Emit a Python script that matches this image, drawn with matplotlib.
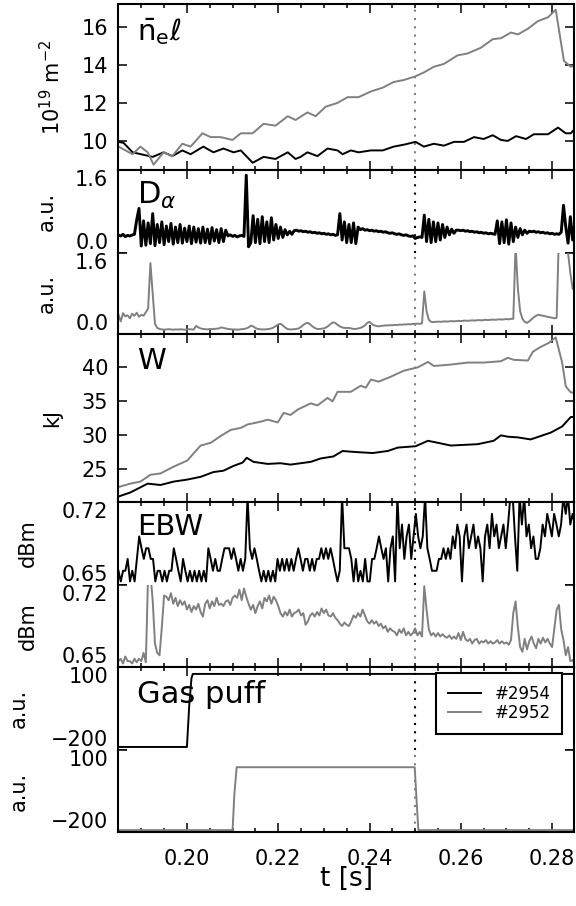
import numpy as np
import matplotlib
matplotlib.use('Agg')
import matplotlib.pyplot as plt
from matplotlib.ticker import MultipleLocator, FormatStrFormatter

BLACK = 'k'
GREY = '0.5'

t_range = (0.1849, 0.2848)
t_mark = 0.25

# line integrated density [1e19 m^-2]
ne_t_2954 = [0.1850, 0.1861, 0.1881, 0.1925, 0.1949, 0.1968, 0.1990, 0.2008, 0.2036, 0.2058,
             0.2080, 0.2102, 0.2118, 0.2144, 0.2168, 0.2194, 0.2221, 0.2238, 0.2249, 0.2264,
             0.2286, 0.2308, 0.2330, 0.2341, 0.2359, 0.2376, 0.2403, 0.2429, 0.2453, 0.2475,
             0.2501, 0.2519, 0.2541, 0.2563, 0.2585, 0.2607, 0.2629, 0.2650, 0.2670, 0.2688,
             0.2703, 0.2721, 0.2743, 0.2760, 0.2791, 0.2813, 0.2830, 0.2841, 0.2852]
ne_2954 = [9.95, 9.9, 9.4, 9.16, 9.4, 9.2, 9.5, 9.3, 9.7, 9.4,
           9.6, 9.4, 9.5, 8.85, 9.16, 9.05, 9.4, 9.05, 9.16, 9.4,
           9.2, 9.6, 9.5, 9.3, 9.5, 9.4, 9.5, 9.5, 9.7, 9.8,
           9.95, 9.7, 9.85, 9.75, 9.95, 9.95, 10.2, 10.1, 10.3, 10.05,
           10.0, 10.25, 10.1, 10.35, 10.35, 10.7, 10.4, 10.4, 10.7]
ne_t_2952 = [0.1850, 0.1881, 0.1898, 0.1914, 0.1927, 0.1949, 0.1968, 0.1990, 0.2008, 0.2034,
             0.2052, 0.2074, 0.2100, 0.2118, 0.2144, 0.2168, 0.2194, 0.2221, 0.2238, 0.2264,
             0.2282, 0.2304, 0.2330, 0.2352, 0.2376, 0.2403, 0.2429, 0.2453, 0.2475, 0.2501,
             0.2519, 0.2541, 0.2563, 0.2593, 0.2615, 0.2644, 0.2670, 0.2688, 0.2710, 0.2725,
             0.2747, 0.2769, 0.2791, 0.2808, 0.2826, 0.2841, 0.2852]
ne_2952 = [9.7, 9.3, 9.7, 9.4, 8.75, 9.4, 9.2, 9.85, 9.7, 10.4,
           10.2, 10.2, 10.05, 10.4, 10.4, 10.9, 10.8, 11.3, 11.1, 11.5,
           11.3, 11.8, 12.0, 12.3, 12.3, 12.6, 12.8, 13.1, 13.2, 13.4,
           13.6, 13.9, 14.05, 14.5, 14.6, 14.9, 15.35, 15.4, 15.7, 15.6,
           15.9, 16.3, 16.5, 16.9, 14.2, 13.9, 14.0]

# D-alpha [a.u.], one sample every 0.5 ms from 0.185 s to 0.285 s
da_2954 = [0.347, 0.328, 0.36, 0.315, 0.34, 0.328, 0.347, 0.36,
           0.64, 0.86, 0.135,
           0.62, 0.15, 0.58, 0.18, 0.76, 0.14, 0.55, 0.20, 0.60, 0.16, 0.52, 0.22, 0.57, 0.17,
           0.50, 0.20, 0.55, 0.19, 0.48, 0.22, 0.52, 0.18, 0.50, 0.21, 0.47, 0.19, 0.50, 0.20,
           0.46, 0.18, 0.49, 0.23, 0.45, 0.20, 0.47, 0.22, 0.44,
           0.33, 0.35, 0.32, 0.34, 0.31, 0.33, 0.34, 0.32,
           1.50, 0.12, 0.20,
           0.72, 0.20, 0.65, 0.18, 0.70, 0.22, 0.60, 0.20, 0.68, 0.25, 0.55, 0.28,
           0.50, 0.30, 0.45, 0.35, 0.42, 0.36,
           0.43, 0.44, 0.42, 0.43, 0.41, 0.42, 0.40, 0.41, 0.39, 0.40,
           0.38, 0.39, 0.37, 0.38, 0.36, 0.37, 0.35, 0.36, 0.34, 0.35,
           0.76, 0.25, 0.60, 0.20,
           0.55, 0.20, 0.58, 0.18, 0.50,
           0.45, 0.47, 0.44, 0.45, 0.43, 0.44, 0.42, 0.43, 0.41, 0.42, 0.40, 0.41,
           0.39, 0.38, 0.39, 0.37, 0.36, 0.37, 0.35, 0.34, 0.35, 0.33, 0.32, 0.33,
           0.28, 0.30, 0.31, 0.30,
           0.73, 0.22,
           0.65, 0.20, 0.60, 0.22, 0.58, 0.25, 0.55,
           0.30, 0.50, 0.35, 0.46, 0.38, 0.44,
           0.44, 0.43, 0.44, 0.42, 0.43, 0.41, 0.42, 0.40, 0.41, 0.39, 0.40, 0.38,
           0.39, 0.37, 0.38, 0.37, 0.36,
           0.62, 0.18, 0.60, 0.20, 0.64, 0.17, 0.58, 0.22,
           0.50, 0.30, 0.47, 0.35, 0.44, 0.38,
           0.42, 0.41, 0.42, 0.40, 0.41, 0.39, 0.40, 0.38, 0.39, 0.37, 0.38, 0.36, 0.37, 0.36,
           0.40, 0.92, 0.50, 0.19, 0.70, 0.25, 0.60]
da_2952 = [0.38, 0.25, 0.41, 0.35, 0.37, 0.31, 0.40, 0.36, 0.42, 0.34, 0.38, 0.36, 0.43,
           0.50, 1.40, 0.80, 0.20, 0.12,
           0.10, 0.09, 0.085, 0.09, 0.095, 0.09, 0.085, 0.09, 0.088, 0.092, 0.09, 0.085,
           0.09, 0.095, 0.09, 0.088,
           0.16, 0.13, 0.11,
           0.10, 0.095, 0.09, 0.10, 0.095, 0.10, 0.105, 0.11,
           0.13, 0.12, 0.11, 0.10,
           0.095, 0.09, 0.09, 0.085, 0.09, 0.095, 0.10, 0.11, 0.13,
           0.165, 0.15, 0.12,
           0.10, 0.095, 0.09, 0.09, 0.095, 0.10, 0.11, 0.13, 0.16, 0.19,
           0.20, 0.17, 0.13,
           0.10, 0.09, 0.09, 0.095, 0.10, 0.11, 0.14, 0.18, 0.21,
           0.22, 0.19, 0.15,
           0.12, 0.10, 0.10, 0.105, 0.11, 0.13, 0.16, 0.20,
           0.23, 0.22, 0.18, 0.15,
           0.13, 0.12, 0.12,
           0.12, 0.11, 0.10, 0.10, 0.11, 0.12, 0.14, 0.17,
           0.22, 0.24, 0.20,
           0.17, 0.16, 0.15,
           0.16, 0.165, 0.17, 0.168, 0.175, 0.172, 0.18, 0.178, 0.185, 0.182,
           0.19, 0.188, 0.195, 0.19, 0.20,
           0.20, 0.205, 0.20, 0.21,
           0.84, 0.45, 0.28,
           0.24, 0.235, 0.24, 0.245, 0.24, 0.245, 0.25, 0.245, 0.25, 0.255,
           0.25, 0.255, 0.26, 0.255, 0.26, 0.265, 0.26, 0.265, 0.27, 0.265,
           0.27, 0.275, 0.27, 0.275, 0.28, 0.275, 0.28, 0.285, 0.28, 0.285,
           0.29, 0.285, 0.29, 0.295, 0.29, 0.30, 0.30,
           1.75, 0.90, 0.45, 0.30, 0.24, 0.22,
           0.25, 0.29, 0.33, 0.36, 0.38,
           0.37, 0.36, 0.35, 0.34, 0.33, 0.32, 0.31, 0.32,
           2.0, 2.5, 2.5, 2.5,
           1.6, 1.2, 0.9, 0.85]

# stored energy [kJ]
w_t_2954 = [0.1850, 0.1876, 0.1914, 0.1942, 0.1971, 0.2001, 0.2030, 0.2058, 0.2080, 0.2102,
            0.2122, 0.2131, 0.2146, 0.2177, 0.2205, 0.2227, 0.2249, 0.2271, 0.2293, 0.2321,
            0.2341, 0.2359, 0.2381, 0.2407, 0.2440, 0.2462, 0.2501, 0.2528, 0.2550, 0.2578,
            0.2607, 0.2637, 0.2672, 0.2688, 0.2703, 0.2725, 0.2753, 0.2775, 0.2797, 0.2822,
            0.2841, 0.2852]
w_2954 = [20.9, 21.5, 22.8, 22.6, 23.1, 23.4, 23.8, 24.5, 24.7, 25.4,
          25.9, 26.6, 26.0, 25.7, 25.8, 25.6, 25.8, 26.0, 26.5, 26.8,
          27.6, 27.5, 27.4, 27.3, 27.6, 28.1, 28.3, 29.1, 28.8, 28.4,
          28.5, 28.6, 29.1, 29.9, 29.7, 29.6, 29.3, 29.8, 30.3, 31.2,
          32.6, 32.6]
w_t_2952 = [0.1850, 0.1876, 0.1898, 0.1920, 0.1942, 0.1971, 0.2001, 0.2014, 0.2030, 0.2052,
            0.2074, 0.2096, 0.2118, 0.2133, 0.2161, 0.2177, 0.2199, 0.2212, 0.2227, 0.2243,
            0.2271, 0.2286, 0.2308, 0.2319, 0.2330, 0.2359, 0.2381, 0.2392, 0.2403, 0.2420,
            0.2446, 0.2475, 0.2506, 0.2528, 0.2541, 0.2578, 0.2615, 0.2650, 0.2688, 0.2703,
            0.2716, 0.2747, 0.2758, 0.2775, 0.2793, 0.2808, 0.2822, 0.2830, 0.2841, 0.2852]
w_2952 = [22.3, 22.8, 23.1, 24.1, 24.3, 25.3, 26.2, 27.2, 28.4, 28.8,
          29.8, 30.7, 31.0, 31.5, 31.9, 32.2, 31.8, 33.2, 32.9, 33.7,
          34.6, 34.3, 35.4, 34.9, 36.3, 36.3, 37.2, 36.9, 38.1, 37.8,
          38.5, 39.4, 39.9, 40.7, 40.1, 40.3, 40.6, 40.6, 40.8, 41.3,
          41.0, 40.9, 42.2, 42.9, 43.5, 44.3, 40.6, 37.1, 36.2, 36.2]

# EBW emission [dBm], one sample every 0.5 ms from 0.185 s to 0.285 s
ebw_2954 = [0.662, 0.653, 0.662, 0.662, 0.672, 0.653, 0.662, 0.653, 0.672, 0.691,
            0.681, 0.672, 0.681, 0.681, 0.672, 0.672, 0.653,
            0.662, 0.662, 0.653, 0.662, 0.653, 0.662, 0.662, 0.681,
            0.672, 0.662, 0.653, 0.672, 0.662, 0.653,
            0.662, 0.653, 0.662, 0.653, 0.662, 0.653, 0.662, 0.653, 0.681,
            0.672, 0.662, 0.672, 0.662, 0.662, 0.672,
            0.681, 0.681, 0.681, 0.672, 0.681,
            0.672, 0.662, 0.672, 0.662, 0.672, 0.725,
            0.681, 0.672, 0.681, 0.672,
            0.662, 0.653, 0.662, 0.653, 0.662, 0.653, 0.662, 0.653,
            0.672, 0.662, 0.672, 0.662, 0.672, 0.662, 0.672, 0.662, 0.672, 0.681,
            0.672, 0.662, 0.672, 0.672, 0.662, 0.672, 0.662, 0.672, 0.672,
            0.681, 0.672, 0.681, 0.672, 0.681, 0.672,
            0.662, 0.653, 0.662, 0.725, 0.681, 0.681,
            0.681,
            0.672, 0.653, 0.672, 0.653, 0.662, 0.653, 0.672, 0.653, 0.653,
            0.672, 0.672, 0.681, 0.691, 0.681, 0.672, 0.681, 0.653,
            0.681, 0.691, 0.653, 0.725, 0.681,
            0.701, 0.672, 0.691, 0.701, 0.672, 0.691, 0.710, 0.691,
            0.681, 0.691, 0.725, 0.681, 0.672, 0.662, 0.662, 0.662, 0.672,
            0.672, 0.681, 0.672, 0.681, 0.672,
            0.691, 0.681, 0.701, 0.691, 0.653,
            0.691, 0.701, 0.681, 0.691, 0.701, 0.681, 0.691, 0.681, 0.653,
            0.691, 0.701, 0.681, 0.710, 0.691, 0.701, 0.681, 0.691, 0.701, 0.681,
            0.701, 0.725, 0.725, 0.691, 0.662,
            0.725, 0.701, 0.725, 0.691, 0.701, 0.681, 0.691, 0.672, 0.672, 0.681,
            0.701, 0.691, 0.710, 0.701, 0.691, 0.710, 0.701, 0.691, 0.701, 0.725,
            0.710, 0.725, 0.701, 0.710, 0.701]
ebw_2952 = [0.655, 0.657, 0.653, 0.659, 0.655, 0.655, 0.653, 0.657, 0.654, 0.657, 0.655, 0.662, 0.654,
            0.730, 0.730, 0.707, 0.670, 0.662, 0.660, 0.684, 0.711,
            0.710, 0.707, 0.713, 0.704, 0.709, 0.702, 0.707, 0.703,
            0.706, 0.699, 0.703, 0.697, 0.702, 0.699, 0.704, 0.697, 0.693,
            0.704, 0.707, 0.700, 0.706, 0.702, 0.709, 0.703, 0.704,
            0.702, 0.706, 0.707, 0.703, 0.709,
            0.711, 0.709, 0.716, 0.707, 0.717, 0.710,
            0.704, 0.699, 0.703, 0.696, 0.702, 0.706, 0.700,
            0.709, 0.706, 0.711, 0.704, 0.710, 0.707, 0.702,
            0.696, 0.693, 0.697, 0.694, 0.699, 0.693, 0.696, 0.697,
            0.699, 0.694, 0.696, 0.686, 0.689,
            0.694, 0.696, 0.693, 0.697, 0.694, 0.700, 0.696,
            0.699, 0.694, 0.693, 0.696, 0.692,
            0.690, 0.687, 0.685, 0.688, 0.686,
            0.685, 0.689,
            0.694, 0.692, 0.696, 0.693, 0.699, 0.694,
            0.689, 0.687, 0.690, 0.687, 0.689, 0.685,
            0.687, 0.683, 0.685, 0.680, 0.683, 0.681,
            0.680, 0.677, 0.682, 0.679, 0.683, 0.677,
            0.680, 0.677, 0.679,
            0.683, 0.677, 0.680, 0.676,
            0.719, 0.699, 0.682,
            0.677, 0.679, 0.676, 0.679, 0.676, 0.678, 0.676,
            0.675, 0.677, 0.674, 0.676, 0.674, 0.679, 0.673, 0.680,
            0.674, 0.672, 0.674, 0.670, 0.673, 0.674, 0.670, 0.672, 0.671, 0.673,
            0.670, 0.672, 0.670, 0.671, 0.673, 0.670, 0.672, 0.670, 0.671, 0.669,
            0.673, 0.696, 0.706, 0.684, 0.667, 0.663,
            0.674, 0.665, 0.672, 0.676, 0.670, 0.666,
            0.674, 0.670, 0.675, 0.671, 0.674, 0.670, 0.667,
            0.683, 0.699, 0.703, 0.682,
            0.673, 0.660, 0.667, 0.655, 0.656, 0.652]

# gas puff valve [a.u.]
gas_t_2954 = [0.185, 0.2000, 0.2005, 0.2010, 0.2013, 0.285]
gas_2954 = [-189, -189, -40, 60, 75, 75]
gas_t_2952 = [0.185, 0.2100, 0.2104, 0.2109, 0.2499, 0.2503, 0.2507, 0.285]
gas_2952 = [-193, -193, -60, 37, 37, -80, -193, -193]


fig = plt.figure(figsize=(5.76, 9.06), dpi=100)


def panel(top, bottom, top_ticks=True, bottom_ticks=True):
    # top / bottom in pixels from the top of the figure
    ax = fig.add_axes([118 / 576, 1 - bottom / 906, 456 / 576, (bottom - top) / 906])
    ax.set_xlim(*t_range)
    ax.xaxis.set_major_locator(MultipleLocator(0.02))
    ax.xaxis.set_minor_locator(MultipleLocator(0.005))
    ax.tick_params(which='both', direction='in', left=True, right=True,
                   top=top_ticks, bottom=bottom_ticks, labelbottom=False,
                   width=1.1, labelsize=15)
    ax.tick_params(which='major', length=6.5)
    ax.tick_params(which='minor', length=3)
    ax.tick_params(axis='y', pad=7)
    ax.spines['top'].set_visible(top_ticks)
    ax.spines['bottom'].set_visible(bottom_ticks)
    for sp in ax.spines.values():
        sp.set_linewidth(1.5)
    return ax


def ylab(ax, text, xpos):
    ax.set_ylabel(text, fontsize=15, va='center')
    ax.yaxis.set_label_coords((xpos - 118) / 456, 0.5)


def end_ticks(ax, lo, hi, fmt=None):
    # sub-panels only carry ticks at both ends, labels pushed inwards
    ax.set_ylim(lo, hi)
    ax.set_yticks([lo, hi])
    if fmt:
        ax.yaxis.set_major_formatter(FormatStrFormatter(fmt))
    labels = ax.get_yticklabels()
    labels[0].set_va('bottom')
    labels[-1].set_va('top')


def mark(ax, color):
    ax.axvline(t_mark, color=color, lw=1.5, ls=(0, (1, 3)), zorder=1)


t_da = np.linspace(0.185, 0.285, len(da_2954))
t_da2 = np.linspace(0.185, 0.285, len(da_2952))
t_ebw = np.linspace(0.185, 0.285, len(ebw_2954))
t_ebw2 = np.linspace(0.185, 0.285, len(ebw_2952))
lw = 1.4

# density
ax1 = panel(4, 170)
ax1.plot(ne_t_2954, ne_2954, color=BLACK, lw=lw)
ax1.plot(ne_t_2952, ne_2952, color=GREY, lw=lw)
ax1.set_ylim(8.47, 17.2)
ax1.set_yticks([10, 12, 14, 16])
mark(ax1, GREY)
ylab(ax1, r'10$^{19}$ m$^{-2}$', 52)
ax1.text(0.042, 0.925, r'$\bar{\mathrm{n}}_\mathrm{e}\ell$', transform=ax1.transAxes,
         fontsize=21, ha='left', va='top')

# D alpha
ax2a = panel(170, 253, bottom_ticks=False)
ax2a.plot(t_da, da_2954, color=BLACK, lw=2.1)
end_ticks(ax2a, 0, 1.6, '%.1f')
mark(ax2a, BLACK)
ylab(ax2a, 'a.u.', 47)
ax2a.text(0.042, 0.88, r'D$_\alpha$', transform=ax2a.transAxes, fontsize=22, ha='left', va='top')

ax2b = panel(253, 334, top_ticks=False)
ax2b.plot(t_da2, da_2952, color=GREY, lw=lw)
end_ticks(ax2b, 0, 1.6, '%.1f')
mark(ax2b, GREY)
ylab(ax2b, 'a.u.', 47)

# stored energy
ax3 = panel(334, 502)
ax3.plot(w_t_2954, w_2954, color=BLACK, lw=lw)
ax3.plot(w_t_2952, w_2952, color=GREY, lw=lw)
ax3.set_ylim(20.1, 44.8)
ax3.set_yticks([25, 30, 35, 40])
mark(ax3, GREY)
ylab(ax3, 'kJ', 52)
ax3.text(0.042, 0.92, 'W', transform=ax3.transAxes, fontsize=21, ha='left', va='top')

# EBW
ax4a = panel(502, 585, bottom_ticks=False)
ax4a.plot(t_ebw, ebw_2954, color=BLACK, lw=lw)
end_ticks(ax4a, 0.65, 0.72, '%.2f')
mark(ax4a, BLACK)
ylab(ax4a, 'dBm', 28)
ax4a.text(0.042, 0.87, 'EBW', transform=ax4a.transAxes, fontsize=21, ha='left', va='top')

ax4b = panel(585, 667, top_ticks=False)
ax4b.plot(t_ebw2, ebw_2952, color=GREY, lw=lw)
end_ticks(ax4b, 0.65, 0.72, '%.2f')
mark(ax4b, GREY)
ylab(ax4b, 'dBm', 28)

# gas puff
ax5a = panel(667, 750, bottom_ticks=False)
l1, = ax5a.plot(gas_t_2954, gas_2954, color=BLACK, lw=lw)
end_ticks(ax5a, -200, 100)
mark(ax5a, BLACK)
ylab(ax5a, 'a.u.', 19)
ax5a.text(0.042, 0.845, 'Gas puff', transform=ax5a.transAxes, fontsize=22, ha='left', va='top')

ax5b = panel(750, 832, top_ticks=False)
l2, = ax5b.plot(gas_t_2952, gas_2952, color=GREY, lw=lw)
end_ticks(ax5b, -200, 100)
mark(ax5b, GREY)
ylab(ax5b, 'a.u.', 19)
ax5b.tick_params(axis='x', labelbottom=True, pad=12)
ax5b.xaxis.set_major_formatter(FormatStrFormatter('%.2f'))
ax5b.set_xlabel('t [s]', fontsize=19, labelpad=-2)

leg = ax5a.legend([l1, l2], ['#2954', '#2952'], loc='upper right',
                  bbox_to_anchor=(0.974, 0.928), borderaxespad=0, fontsize=12,
                  fancybox=False, framealpha=1, handlelength=2.0, handletextpad=0.8,
                  borderpad=0.7, labelspacing=0.1)
leg.get_frame().set_edgecolor('k')
leg.get_frame().set_linewidth(1.5)
leg.set_zorder(5)

fig.savefig('out.png', dpi=100)
